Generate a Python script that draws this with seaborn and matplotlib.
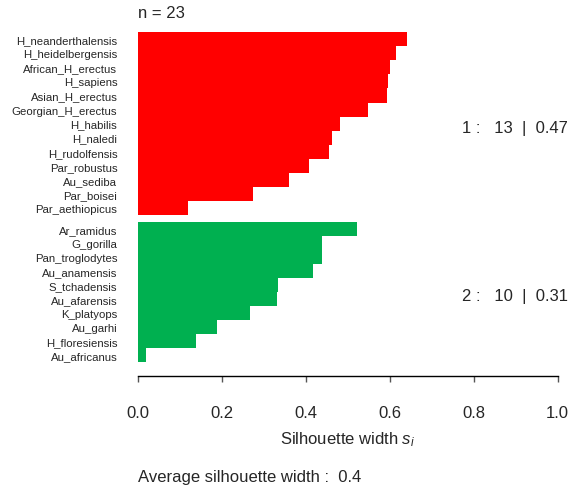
import numpy as np
import pandas as pd
import matplotlib
matplotlib.use("Agg")
import matplotlib.pyplot as plt
import seaborn as sns

# silhouette widths, already sorted within each cluster
cluster1_names = ["H_neanderthalensis", "H_heidelbergensis", "African_H_erectus", "H_sapiens",
                  "Asian_H_erectus", "Georgian_H_erectus", "H_habilis", "H_naledi",
                  "H_rudolfensis", "Par_robustus", "Au_sediba", "Par_boisei", "Par_aethiopicus"]
cluster1_sil = [0.642, 0.615, 0.601, 0.597, 0.593, 0.548, 0.483, 0.462,
                0.455, 0.408, 0.360, 0.276, 0.121]

cluster2_names = ["Ar_ramidus", "G_gorilla", "Pan_troglodytes", "Au_anamensis", "S_tchadensis",
                  "Au_afarensis", "K_platyops", "Au_garhi", "H_floresiensis", "Au_africanus"]
cluster2_sil = [0.522, 0.439, 0.439, 0.419, 0.335, 0.333, 0.268, 0.190, 0.139, 0.020]

cluster_colors = {"1": "#FF0000", "2": "#00B050"}
x_ticks = [0.0, 0.2, 0.4, 0.6, 0.8, 1.0]

n1, n2 = len(cluster1_names), len(cluster2_names)
gap = 0.5
pos = np.concatenate([np.arange(n1), n1 + gap + np.arange(n2)])
df = pd.DataFrame({
    "name": cluster1_names + cluster2_names,
    "sil": cluster1_sil + cluster2_sil,
    "cluster": ["1"] * n1 + ["2"] * n2,
    "pos": pos,
})

sns.set_style("white")
plt.rcParams["font.family"] = ["Liberation Sans", "DejaVu Sans"]
plt.rcParams["mathtext.fontset"] = "custom"
plt.rcParams["mathtext.rm"] = "Liberation Sans"
plt.rcParams["mathtext.it"] = "Liberation Sans:italic"

W, H = 579, 489
fig = plt.figure(figsize=(W / 100, H / 100), dpi=100)
x0, x1 = 137.5, 557.5
ytop, ybot = 33.3, 377.0
ax = fig.add_axes([x0 / W, 1 - ybot / H, (x1 - x0) / W, (ybot - ytop) / H])

sns.barplot(data=df, x="sil", y="pos", hue="cluster", palette=cluster_colors,
            orient="h", native_scale=True, width=1, dodge=False,
            linewidth=0, saturation=1, legend=False, ax=ax)

row_px = 14.04
ax.set_xlim(0, 1)
ax.set_ylim(-0.5 + (ybot - ytop) / row_px, -0.5)

for s in ["left", "top", "right"]:
    ax.spines[s].set_visible(False)
ax.spines["bottom"].set_color("black")
ax.spines["bottom"].set_linewidth(1.0)

ax.set_xticks(x_ticks)
ax.set_xticklabels([f"{t:.1f}" for t in x_ticks], fontsize=12)
ax.tick_params(axis="x", bottom=True, length=4.5, width=1, color="#555555", pad=16.5)
ax.set_yticks(df["pos"])
ax.set_yticklabels(df["name"], fontsize=8.2)
ax.tick_params(axis="y", left=False, length=0, pad=14.5)
ax.set_xlabel("Silhouette width $s_i$", fontsize=12, labelpad=6.5)
ax.set_ylabel("")

# cluster summaries, right-aligned in the margin
c1_pos = (n1 - 1) / 2
c2_pos = n1 + gap + (n2 - 1) / 2
label_x = (568 - x0) / (x1 - x0)
ax.text(label_x, c1_pos + 0.25, f"1 :   {n1}  |  {np.mean(cluster1_sil):.2f}",
        fontsize=12, ha="right", va="center", clip_on=False)
ax.text(label_x, c2_pos + 0.25, f"2 :   {n2}  |  {np.mean(cluster2_sil):.2f}",
        fontsize=12, ha="right", va="center", clip_on=False)

avg = np.mean(cluster1_sil + cluster2_sil)
fig.text(138 / W, 1 - 14 / H, f"n = {n1 + n2}", fontsize=12, ha="left", va="center")
fig.text(138 / W, 1 - 478 / H, f"Average silhouette width :  {avg:.1f}",
         fontsize=12, ha="left", va="center")

fig.savefig("out.png", dpi=100)
